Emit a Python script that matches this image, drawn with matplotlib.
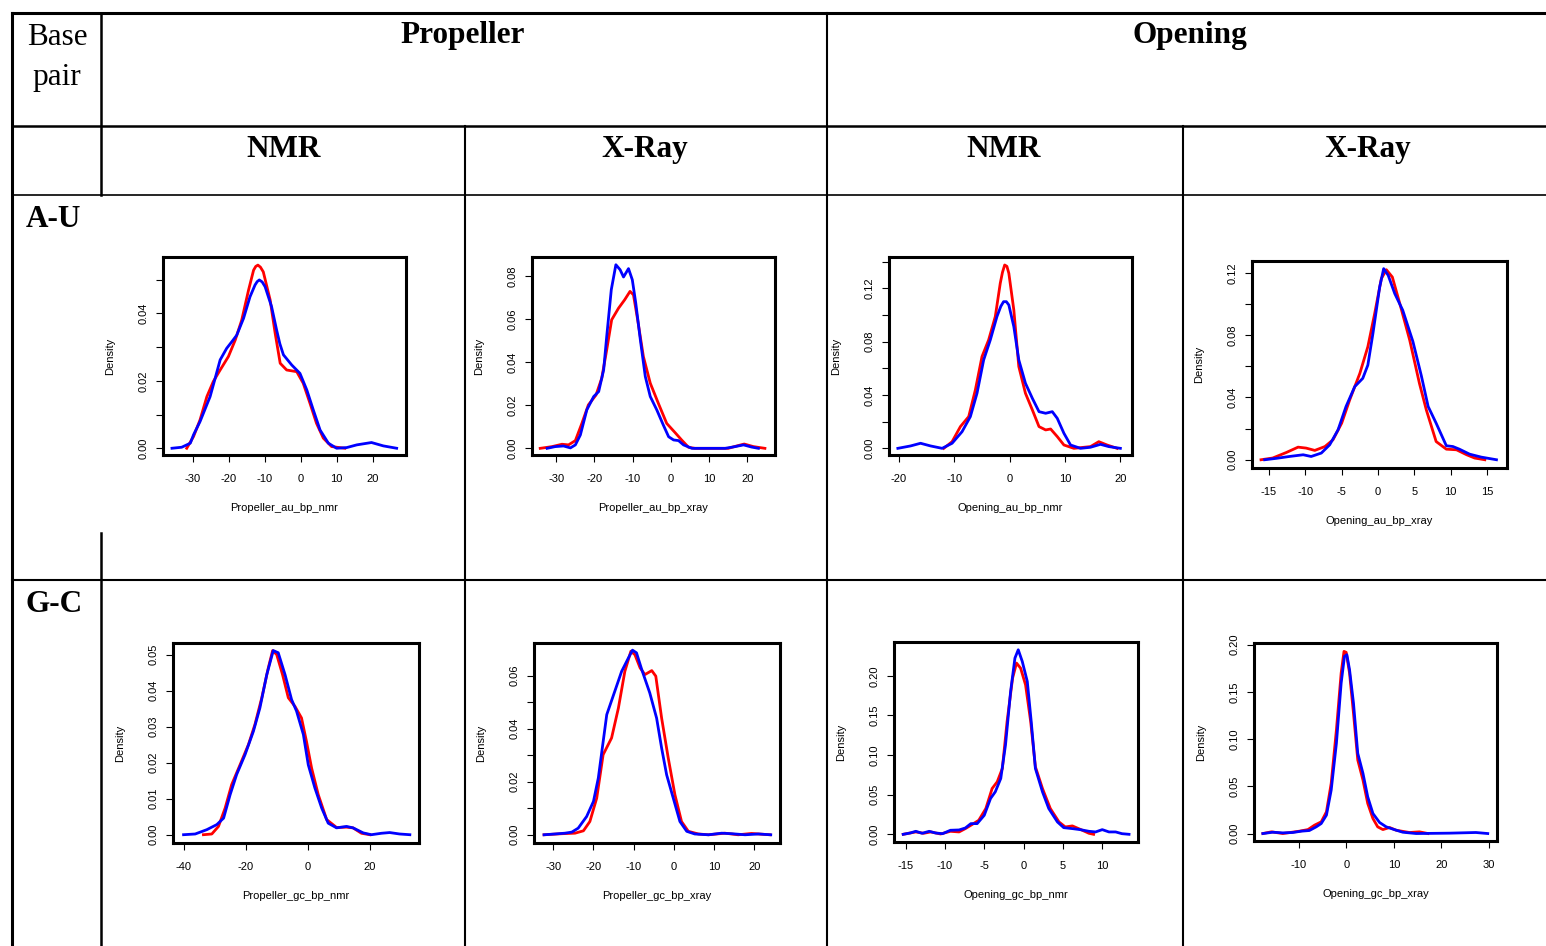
import matplotlib.pyplot as plt
from matplotlib.lines import Line2D

# density curves (red / blue per panel)
prop_au_nmr_blue_x = [-35.8, -33.1, -30.7, -29.8, -28.0, -25.2, -23.8, -22.4, -20.6, -19.0, -17.8, -15.9, -14.1, -12.7, -12.1, -11.5, -10.7, -9.9, -8.1, -6.7, -5.8, -4.8, -2.5, -0.2, 1.7, 3.5, 5.4, 7.7, 10.0, 12.8, 15.6, 19.7, 23.0, 26.7]
prop_au_nmr_blue_y = [0.0, 0.0003, 0.0015, 0.0040, 0.0079, 0.0153, 0.0207, 0.0262, 0.0296, 0.0318, 0.0335, 0.0385, 0.0449, 0.0484, 0.0494, 0.0499, 0.0493, 0.0479, 0.0420, 0.0351, 0.0310, 0.0277, 0.0247, 0.0222, 0.0173, 0.0114, 0.0054, 0.0015, 0.0, 0.0002, 0.0010, 0.0017, 0.0007, 0.0]
prop_au_nmr_red_x = [-31.7, -29.8, -28.0, -26.1, -24.3, -22.4, -20.1, -18.2, -16.4, -14.5, -13.1, -12.5, -11.9, -11.2, -10.4, -8.5, -7.1, -5.7, -3.9, -1.1, 0.7, 2.6, 4.4, 6.3, 8.6, 12.3]
prop_au_nmr_red_y = [0.0, 0.0035, 0.0084, 0.0153, 0.0198, 0.0232, 0.0272, 0.0321, 0.0380, 0.0469, 0.0528, 0.0539, 0.0543, 0.0537, 0.0523, 0.0440, 0.0341, 0.0252, 0.0232, 0.0227, 0.0193, 0.0133, 0.0074, 0.0030, 0.0005, 0.0]

prop_au_xray_blue_x = [-32.4, -30.3, -28.1, -26.3, -25.0, -23.7, -22.0, -20.2, -18.9, -17.6, -16.8, -15.6, -14.4, -13.3, -12.4, -11.1, -10.1, -9.2, -8.0, -6.7, -5.4, -3.7, -2.0, -0.6, 0.7, 2.0, 3.3, 5.5, 14.2, 16.8, 19.0, 21.1, 22.9]
prop_au_xray_blue_y = [0.0, 0.0008, 0.0011, 0.0002, 0.0016, 0.0062, 0.0179, 0.0241, 0.0264, 0.0365, 0.0520, 0.0738, 0.0854, 0.0831, 0.0797, 0.0836, 0.0784, 0.0676, 0.0505, 0.0334, 0.0241, 0.0179, 0.0109, 0.0054, 0.0039, 0.0036, 0.0016, 0.0, 0.0, 0.0008, 0.0016, 0.0006, 0.0]
prop_au_xray_red_x = [-34.2, -31.1, -28.5, -26.8, -25.0, -23.3, -21.6, -19.6, -18.1, -16.8, -15.5, -13.7, -12.1, -10.7, -9.8, -8.7, -7.2, -5.4, -3.3, -1.1, 1.1, 2.8, 4.6, 6.3, 15.0, 17.2, 19.2, 21.6, 24.6]
prop_au_xray_red_y = [0.0, 0.0008, 0.0019, 0.0016, 0.0036, 0.0116, 0.0202, 0.0248, 0.0326, 0.0458, 0.0598, 0.0652, 0.0691, 0.0730, 0.0714, 0.0598, 0.0427, 0.0303, 0.0210, 0.0116, 0.0073, 0.0039, 0.0005, 0.0, 0.0, 0.0011, 0.0020, 0.0008, 0.0]

open_au_nmr_blue_x = [-20.2, -17.9, -16.1, -14.3, -12.2, -10.4, -8.6, -7.1, -5.9, -4.7, -3.5, -2.3, -1.6, -1.1, -0.6, -0.15, 0.75, 1.65, 2.85, 4.1, 5.3, 6.5, 7.7, 8.6, 9.8, 11.0, 12.8, 14.6, 16.4, 17.9, 20.0]
open_au_nmr_blue_y = [0.0, 0.0018, 0.0038, 0.0018, 0.0, 0.0038, 0.0125, 0.0238, 0.0413, 0.0663, 0.0813, 0.0988, 0.1065, 0.1100, 0.1100, 0.1075, 0.0913, 0.0663, 0.0488, 0.0375, 0.0275, 0.0263, 0.0275, 0.0225, 0.0113, 0.0025, 0.0, 0.0008, 0.0030, 0.0013, 0.0]
open_au_nmr_red_x = [-11.9, -10.4, -8.9, -7.4, -6.2, -5.0, -3.8, -2.6, -1.7, -1.3, -0.9, -0.5, -0.15, 0.75, 1.65, 2.85, 4.1, 5.3, 6.5, 7.4, 8.6, 9.8, 11.6, 14.6, 16.1, 17.6, 19.4]
open_au_nmr_red_y = [0.0, 0.0050, 0.0163, 0.0238, 0.0438, 0.0688, 0.0813, 0.0988, 0.1238, 0.1320, 0.1375, 0.1365, 0.1313, 0.1038, 0.0613, 0.0413, 0.0288, 0.0163, 0.0138, 0.0145, 0.0088, 0.0025, 0.0, 0.0013, 0.0050, 0.0025, 0.0]

open_au_xray_blue_x = [-15.6, -14.0, -12.2, -10.3, -9.2, -7.8, -6.65, -5.5, -4.4, -3.2, -2.1, -1.4, -0.7, 0.23, 0.78, 1.4, 2.3, 3.4, 4.8, 5.96, 6.9, 8.0, 9.4, 10.3, 11.2, 12.6, 14.2, 16.3]
open_au_xray_blue_y = [0.0, 0.0009, 0.0021, 0.0032, 0.0021, 0.0043, 0.0096, 0.0192, 0.0342, 0.0470, 0.0523, 0.0608, 0.0811, 0.1110, 0.1228, 0.1185, 0.1068, 0.0961, 0.0760, 0.0540, 0.0342, 0.0235, 0.0090, 0.0085, 0.0068, 0.0036, 0.0017, 0.0]
open_au_xray_red_x = [-16.1, -14.5, -12.6, -11.0, -9.9, -8.7, -7.3, -6.2, -5.0, -3.9, -2.5, -1.4, -0.46, 0.46, 1.15, 1.97, 3.0, 4.36, 5.7, 6.65, 8.0, 9.4, 10.8, 12.2, 13.3, 14.7]
open_au_xray_red_y = [0.0, 0.0011, 0.0047, 0.0081, 0.0075, 0.0060, 0.0085, 0.0128, 0.0235, 0.0384, 0.0555, 0.0726, 0.0939, 0.1164, 0.1221, 0.1174, 0.1003, 0.0769, 0.0491, 0.0320, 0.0117, 0.0068, 0.0064, 0.0032, 0.0011, 0.0]

prop_gc_nmr_blue_x = [-40.0, -36.25, -32.5, -29.3, -27.1, -25.0, -22.9, -20.2, -17.5, -15.4, -13.2, -11.1, -9.5, -7.3, -5.2, -3.6, -1.4, 0.18, 2.3, 4.5, 6.6, 9.3, 12.5, 14.6, 17.9, 20.5, 23.75, 26.4, 29.6, 32.9]
prop_gc_nmr_blue_y = [0.0, 0.0002, 0.0014, 0.0028, 0.0046, 0.0111, 0.0167, 0.0222, 0.0287, 0.0352, 0.0444, 0.0511, 0.0505, 0.0444, 0.0375, 0.0343, 0.0278, 0.0194, 0.0130, 0.0074, 0.0032, 0.0019, 0.0023, 0.0019, 0.0005, 0.0, 0.0004, 0.0006, 0.0002, 0.0]
prop_gc_nmr_red_x = [-33.6, -30.9, -28.75, -26.6, -24.5, -21.8, -19.1, -17.0, -14.8, -12.7, -11.3, -10.0, -8.1, -6.25, -4.1, -2.0, -0.4, 1.25, 3.4, 6.1, 9.3, 12.5, 14.6, 17.3, 20.0]
prop_gc_nmr_red_y = [0.0, 0.0002, 0.0023, 0.0074, 0.0139, 0.0194, 0.0250, 0.0306, 0.0380, 0.0463, 0.0511, 0.0500, 0.0444, 0.0380, 0.0356, 0.0324, 0.0259, 0.0185, 0.0111, 0.0042, 0.0020, 0.0021, 0.0019, 0.0004, 0.0]

prop_gc_xray_blue_x = [-32.3, -29.6, -27.1, -25.4, -23.8, -21.7, -20.0, -18.8, -16.7, -14.7, -13.0, -11.3, -10.3, -9.3, -8.0, -6.0, -4.3, -3.05, -1.8, -0.15, 1.5, 3.2, 5.2, 8.6, 11.9, 14.4, 17.7, 21.0, 24.1]
prop_gc_xray_blue_y = [0.0, 0.0003, 0.0006, 0.0010, 0.0025, 0.0069, 0.0126, 0.0214, 0.0453, 0.0541, 0.0616, 0.0667, 0.0696, 0.0686, 0.0623, 0.0535, 0.0440, 0.0327, 0.0226, 0.0138, 0.0050, 0.0013, 0.0003, 0.0, 0.0006, 0.0004, 0.0, 0.0003, 0.0]
prop_gc_xray_red_x = [-32.3, -27.9, -24.6, -22.5, -20.9, -19.2, -17.6, -15.5, -13.8, -12.2, -10.7, -9.7, -8.4, -7.2, -5.5, -4.5, -3.05, -1.4, 0.26, 1.9, 3.6, 6.1, 8.6, 12.7, 16.0, 19.3, 23.9]
prop_gc_xray_red_y = [0.0, 0.0004, 0.0006, 0.0015, 0.0050, 0.0138, 0.0302, 0.0365, 0.0478, 0.0616, 0.0692, 0.0679, 0.0629, 0.0604, 0.0619, 0.0598, 0.0440, 0.0289, 0.0151, 0.0050, 0.0013, 0.0003, 0.0, 0.0006, 0.0, 0.0005, 0.0]

open_gc_nmr_blue_x = [-15.3, -14.4, -13.7, -12.9, -12.0, -11.2, -10.3, -9.3, -8.2, -7.4, -6.7, -5.9, -5.0, -4.2, -3.6, -2.9, -2.3, -1.65, -1.1, -0.68, -0.17, 0.47, 0.97, 1.5, 2.4, 3.2, 4.3, 5.1, 6.2, 7.2, 8.3, 9.15, 10.0, 10.85, 11.7, 12.5, 13.4]
open_gc_nmr_blue_y = [0.0, 0.0017, 0.0038, 0.0013, 0.0038, 0.0017, 0.0008, 0.0051, 0.0055, 0.0080, 0.0135, 0.0135, 0.0240, 0.0452, 0.0536, 0.0705, 0.1127, 0.1802, 0.2224, 0.2329, 0.2182, 0.1929, 0.1422, 0.0831, 0.0536, 0.0325, 0.0156, 0.0084, 0.0072, 0.0059, 0.0038, 0.0030, 0.0059, 0.0030, 0.0030, 0.0008, 0.0]
open_gc_nmr_red_x = [-15.3, -13.7, -12.7, -11.8, -10.55, -9.3, -8.2, -7.4, -6.7, -5.7, -4.8, -4.0, -3.35, -2.7, -2.1, -1.4, -0.9, -0.38, 0.25, 0.9, 1.5, 2.4, 3.4, 4.5, 5.3, 6.2, 7.2, 8.3, 8.9]
open_gc_nmr_red_y = [0.0, 0.0030, 0.0013, 0.0030, 0.0004, 0.0038, 0.0030, 0.0072, 0.0114, 0.0177, 0.0325, 0.0578, 0.0663, 0.0831, 0.1422, 0.1971, 0.2161, 0.2097, 0.1886, 0.1422, 0.0852, 0.0578, 0.0325, 0.0156, 0.0093, 0.0106, 0.0063, 0.0013, 0.0]

open_gc_xray_blue_x = [-17.6, -15.5, -13.4, -11.3, -9.5, -7.8, -6.35, -5.3, -4.2, -3.2, -2.1, -1.1, -0.4, 0.1, 0.67, 1.5, 2.4, 3.5, 4.5, 5.6, 7.0, 8.4, 10.1, 11.9, 14.7, 21.7, 27.3, 29.8]
open_gc_xray_blue_y = [0.0, 0.0014, 0.0007, 0.0011, 0.0025, 0.0032, 0.0071, 0.0106, 0.0195, 0.0460, 0.0956, 0.1593, 0.1876, 0.1894, 0.1735, 0.1381, 0.0850, 0.0637, 0.0389, 0.0212, 0.0117, 0.0071, 0.0042, 0.0014, 0.0, 0.0004, 0.0011, 0.0]
open_gc_xray_red_x = [-17.6, -15.8, -13.4, -9.9, -8.1, -6.7, -5.3, -4.2, -3.2, -2.1, -1.1, -0.5, -0.04, 0.67, 1.5, 2.4, 3.5, 4.5, 5.6, 6.6, 7.7, 9.1, 10.5, 13.3, 15.4, 17.2]
open_gc_xray_red_y = [0.0, 0.0018, 0.0, 0.0025, 0.0042, 0.0089, 0.0124, 0.0230, 0.0531, 0.1097, 0.1699, 0.1929, 0.1919, 0.1699, 0.1274, 0.0779, 0.0566, 0.0319, 0.0159, 0.0071, 0.0042, 0.0064, 0.0035, 0.0011, 0.0018, 0.0]

W, H = 1546, 946
fig = plt.figure(figsize=(W / 100, H / 100), dpi=100)


def fx(x):
    return x / W


def fy(y):
    return 1 - y / H


def rule(x0, y0, x1, y1, lw=1.5):
    fig.add_artist(Line2D([fx(x0), fx(x1)], [fy(y0), fy(y1)], color='black', lw=lw))


# table grid
rule(12, 13, W, 13, 2.2)
rule(12, 13, 12, H, 2.2)
rule(12, 126, W, 126, 1.8)
rule(12, 195, W, 195, 1.2)
rule(12, 580, W, 580, 1.5)
rule(101, 13, 101, 195, 1.8)
rule(101, 533, 101, H, 1.8)
rule(465, 126, 465, H, 1.5)
rule(827, 13, 827, H, 1.5)
rule(1183, 126, 1183, H, 1.5)

serif = 'Liberation Serif'
fig.text(fx(57), fy(45), 'Base', ha='center', va='baseline', family=serif, fontsize=22.5)
fig.text(fx(57), fy(85), 'pair', ha='center', va='baseline', family=serif, fontsize=22.5)
for txt, x, y in [('Propeller', 463, 43), ('Opening', 1190, 43),
                  ('NMR', 284, 157), ('X-Ray', 645, 157),
                  ('NMR', 1004, 157), ('X-Ray', 1368, 157)]:
    fig.text(fx(x), fy(y), txt, ha='center', va='baseline', family=serif,
             fontsize=22.5, fontweight='bold')
fig.text(fx(26), fy(227), 'A-U', ha='left', va='baseline', family=serif, fontsize=22.5, fontweight='bold')
fig.text(fx(26), fy(612), 'G-C', ha='left', va='baseline', family=serif, fontsize=22.5, fontweight='bold')

# panels: box in pixels (left, top, right, bottom), limits, ticks
panels = [
    dict(box=(163, 257, 406, 455), xlim=(-38.3, 29.3), ylim=(-0.0020, 0.0567),
         xt=[-30, -20, -10, 0, 10, 20], yt=[0, 0.01, 0.02, 0.03, 0.04, 0.05],
         yl=['0.00', '', '0.02', '', '0.04', ''], name='Propeller_au_bp_nmr',
         red=(prop_au_nmr_red_x, prop_au_nmr_red_y), blue=(prop_au_nmr_blue_x, prop_au_nmr_blue_y)),
    dict(box=(532, 257, 775, 455), xlim=(-36.35, 27.24), ylim=(-0.0031, 0.0890),
         xt=[-30, -20, -10, 0, 10, 20], yt=[0, 0.02, 0.04, 0.06, 0.08],
         yl=['0.00', '0.02', '0.04', '0.06', '0.08'], name='Propeller_au_bp_xray',
         red=(prop_au_xray_red_x, prop_au_xray_red_y), blue=(prop_au_xray_blue_x, prop_au_xray_blue_y)),
    dict(box=(889, 257, 1132, 455), xlim=(-21.8, 22.1), ylim=(-0.0050, 0.1435),
         xt=[-20, -10, 0, 10, 20], yt=[0, 0.02, 0.04, 0.06, 0.08, 0.10, 0.12, 0.14],
         yl=['0.00', '', '0.04', '', '0.08', '', '0.12', ''], name='Opening_au_bp_nmr',
         red=(open_au_nmr_red_x, open_au_nmr_red_y), blue=(open_au_nmr_blue_x, open_au_nmr_blue_y)),
    dict(box=(1252, 261, 1507, 468), xlim=(-17.34, 17.75), ylim=(-0.0053, 0.1277),
         xt=[-15, -10, -5, 0, 5, 10, 15], yt=[0, 0.02, 0.04, 0.06, 0.08, 0.10, 0.12],
         yl=['0.00', '', '0.04', '', '0.08', '', '0.12'], name='Opening_au_bp_xray',
         red=(open_au_xray_red_x, open_au_xray_red_y), blue=(open_au_xray_blue_x, open_au_xray_blue_y)),
    dict(box=(173, 643, 419, 843), xlim=(-43.4, 35.85), ylim=(-0.0023, 0.0532),
         xt=[-40, -20, 0, 20], yt=[0, 0.01, 0.02, 0.03, 0.04, 0.05],
         yl=['0.00', '0.01', '0.02', '0.03', '0.04', '0.05'], name='Propeller_gc_bp_nmr',
         red=(prop_gc_nmr_red_x, prop_gc_nmr_red_y), blue=(prop_gc_nmr_blue_x, prop_gc_nmr_blue_y)),
    dict(box=(534, 643, 780, 843), xlim=(-34.8, 26.4), ylim=(-0.0031, 0.0723),
         xt=[-30, -20, -10, 0, 10, 20], yt=[0, 0.01, 0.02, 0.03, 0.04, 0.05, 0.06],
         yl=['0.00', '', '0.02', '', '0.04', '', '0.06'], name='Propeller_gc_bp_xray',
         red=(prop_gc_xray_red_x, prop_gc_xray_red_y), blue=(prop_gc_xray_blue_x, prop_gc_xray_blue_y)),
    dict(box=(894, 642, 1138, 842), xlim=(-16.47, 14.54), ylim=(-0.0097, 0.2427),
         xt=[-15, -10, -5, 0, 5, 10], yt=[0, 0.05, 0.10, 0.15, 0.20],
         yl=['0.00', '0.05', '0.10', '0.15', '0.20'], name='Opening_gc_bp_nmr',
         red=(open_gc_nmr_red_x, open_gc_nmr_red_y), blue=(open_gc_nmr_blue_x, open_gc_nmr_blue_y)),
    dict(box=(1254, 643, 1497, 841), xlim=(-19.47, 31.75), ylim=(-0.0079, 0.2018),
         xt=[-10, 0, 10, 20, 30], yt=[0, 0.05, 0.10, 0.15, 0.20],
         yl=['0.00', '0.05', '0.10', '0.15', '0.20'], name='Opening_gc_bp_xray',
         red=(open_gc_xray_red_x, open_gc_xray_red_y), blue=(open_gc_xray_blue_x, open_gc_xray_blue_y)),
]

sans = 'Liberation Sans'
for p in panels:
    l, t, r, b = p['box']
    ax = fig.add_axes([fx(l), fy(b), (r - l) / W, (b - t) / H])
    ax.plot(p['red'][0], p['red'][1], color='#FF0000', lw=2.0)
    ax.plot(p['blue'][0], p['blue'][1], color='#0000FF', lw=2.0)
    ax.set_xlim(p['xlim'])
    ax.set_ylim(p['ylim'])
    for s in ax.spines.values():
        s.set_linewidth(2.2)
    ax.set_xticks(p['xt'])
    ax.set_xticklabels([str(v) for v in p['xt']], family=sans)
    ax.set_yticks(p['yt'])
    ax.set_yticklabels(p['yl'], rotation=90, va='center', family=sans)
    ax.tick_params(axis='x', direction='out', length=5, width=0.8, labelsize=8, pad=9)
    ax.tick_params(axis='y', direction='out', length=5, width=0.8, labelsize=8, pad=5)
    ax.annotate(p['name'], xy=(0.5, 0), xycoords='axes fraction', xytext=(0, -53),
                textcoords='offset pixels', ha='center', va='center', family=sans, fontsize=8)
    ax.annotate('Density', xy=(0, 0.5), xycoords='axes fraction', xytext=(-53, 0),
                textcoords='offset pixels', ha='center', va='center', rotation=90,
                family=sans, fontsize=8)

fig.savefig('out.png', dpi=100)
